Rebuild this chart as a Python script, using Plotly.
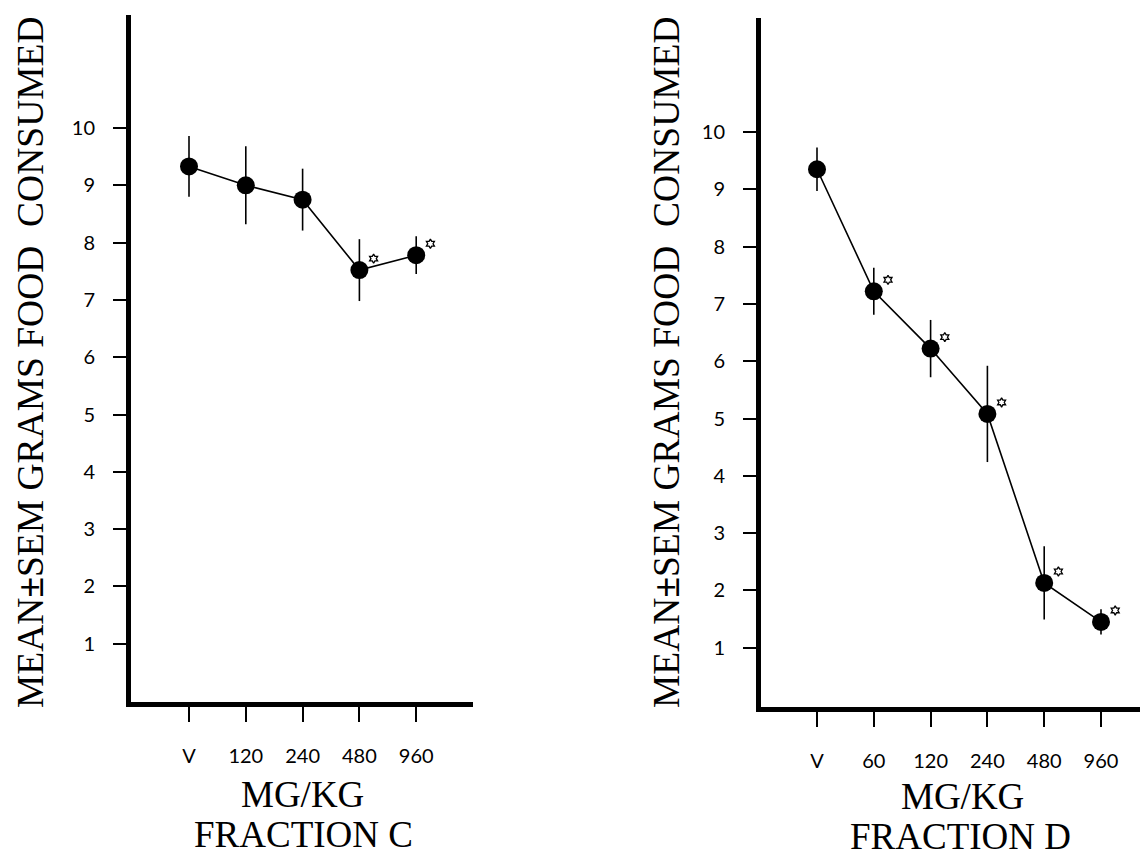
import plotly.graph_objects as go

# ---- data ----
c_labels = ["V", "120", "240", "480", "960"]
c_mean = [9.33, 9.00, 8.75, 7.52, 7.78]
c_sem = [0.53, 0.68, 0.54, 0.54, 0.33]
c_sig = [False, False, False, True, True]

d_labels = ["V", "60", "120", "240", "480", "960"]
d_mean = [9.35, 7.22, 6.22, 5.08, 2.13, 1.45]
d_sem = [0.38, 0.41, 0.50, 0.84, 0.64, 0.22]
d_sig = [False, True, True, True, True, True]

y_ticks = [1, 2, 3, 4, 5, 6, 7, 8, 9, 10]

OFF = 8  # page body margin
W, H = 1148 - OFF, 851 - OFF
SERIF = "Liberation Serif, Times New Roman, serif"
SANS = "Lato, Open Sans, sans-serif"

fig = go.Figure()

def add_panel(labels, mean, sem, sig, xa, ya):
    xs = list(range(len(labels)))
    fig.add_trace(go.Scatter(
        x=xs, y=mean, mode="lines+markers",
        line=dict(color="black", width=1.6),
        marker=dict(color="black", size=18),
        error_y=dict(type="data", array=sem, visible=True, color="black",
                     thickness=1.6, width=0),
        xaxis=xa, yaxis=ya, showlegend=False, hoverinfo="skip"))
    sx = [x + 0.25 for x, s in zip(xs, sig) if s]
    sy = [y + 0.2 for y, s in zip(mean, sig) if s]
    fig.add_trace(go.Scatter(
        x=sx, y=sy, mode="markers",
        marker=dict(symbol="hexagram-open", size=7, color="black",
                    line=dict(width=1.3, color="black")),
        xaxis=xa, yaxis=ya, showlegend=False, hoverinfo="skip"))

add_panel(c_labels, c_mean, c_sem, c_sig, "x", "y")
add_panel(d_labels, d_mean, d_sem, d_sig, "x2", "y2")

def px_x(p):
    return (p - OFF) / W

def px_y(p):
    return 1 - (p - OFF) / H

# panel geometry in screen pixels: plot-area edges, pixel of value 0 / index 0, px per unit
def xrange_for(left, right, x0, sx):
    return [(left - x0) / sx, (right - x0) / sx]

def yrange_for(bottom, top, y0, sy):
    return [(y0 - bottom) / sy, (y0 - top) / sy]

L = dict(left=131, right=473, bottom=702, top=15, x0=189, sx=56.8, y0=701, sy=57.3)
R = dict(left=761, right=1148, bottom=707, top=18, x0=817, sx=56.8, y0=705, sy=57.3)

common_x = dict(showline=True, linewidth=5, linecolor="black", ticks="outside",
                ticklen=15, tickwidth=2, tickcolor="black", showgrid=False,
                zeroline=False, tickfont=dict(family=SANS, size=20, color="black"),
                ticklabelstandoff=17, tickmode="array")
common_y = dict(showline=True, linewidth=5, linecolor="black", ticks="outside",
                ticklen=13, tickwidth=2, tickcolor="black", showgrid=False,
                zeroline=False, tickfont=dict(family=SANS, size=20, color="black"),
                ticklabelstandoff=14, tickmode="array", tickvals=y_ticks,
                ticktext=[str(v) for v in y_ticks])

fig.update_layout(
    width=W, height=H, margin=dict(l=0, r=0, t=0, b=0),
    paper_bgcolor="white", plot_bgcolor="white",
    xaxis=dict(domain=[px_x(L["left"]), px_x(L["right"])],
               range=xrange_for(L["left"], L["right"], L["x0"], L["sx"]),
               tickvals=list(range(len(c_labels))), ticktext=c_labels,
               anchor="y", **common_x),
    yaxis=dict(domain=[px_y(L["bottom"]), px_y(L["top"])],
               range=yrange_for(L["bottom"], L["top"], L["y0"], L["sy"]),
               anchor="x", **common_y),
    xaxis2=dict(domain=[px_x(R["left"]), min(1.0, px_x(R["right"]))],
                range=xrange_for(R["left"], R["right"], R["x0"], R["sx"]),
                tickvals=list(range(len(d_labels))), ticktext=d_labels,
                anchor="y2", **common_x),
    yaxis2=dict(domain=[px_y(R["bottom"]), px_y(R["top"])],
                range=yrange_for(R["bottom"], R["top"], R["y0"], R["sy"]),
                anchor="x2", **common_y),
)

ann = [
    dict(text="MG/KG", x=px_x(302), y=px_y(794), size=37),
    dict(text="FRACTION C", x=px_x(303), y=px_y(834), size=37),
    dict(text="MG/KG", x=px_x(962), y=px_y(796), size=37),
    dict(text="FRACTION D", x=px_x(960), y=px_y(836), size=37),
]
for a in ann:
    fig.add_annotation(text=a["text"], x=a["x"], y=a["y"], xref="paper", yref="paper",
                       xanchor="center", yanchor="middle", showarrow=False,
                       font=dict(family=SERIF, size=a["size"], color="black"))

ytitle = "MEAN<b>±</b>SEM GRAMS FOOD  CONSUMED"
for cx, cy in [(30, 362), (666, 362)]:
    fig.add_annotation(text=ytitle, x=px_x(cx), y=px_y(cy), xref="paper", yref="paper",
                       xanchor="center", yanchor="middle", showarrow=False, textangle=-90,
                       font=dict(family=SERIF, size=37.5, color="black"))

fig.write_html("out.html")
